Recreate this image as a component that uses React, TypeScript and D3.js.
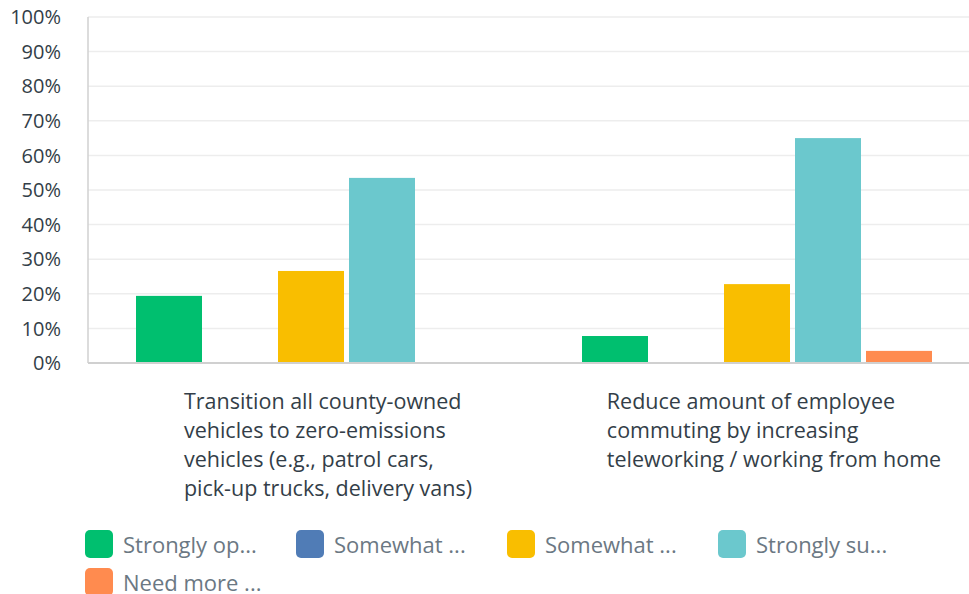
import React, { useEffect, useRef } from 'react';
import * as d3 from 'd3';

const categories = [
  'Transition all county-owned vehicles to zero-emissions vehicles (e.g., patrol cars, pick-up trucks, delivery vans)',
  'Reduce amount of employee commuting by increasing teleworking / working from home',
];
const categoryLines = [
  ['Transition all county-owned', 'vehicles to zero-emissions', 'vehicles (e.g., patrol cars,', 'pick-up trucks, delivery vans)'],
  ['Reduce amount of employee', 'commuting by increasing', 'teleworking / working from home'],
];
const seriesNames = ['Strongly oppose', 'Somewhat oppose', 'Somewhat support', 'Strongly support', 'Need more information'];
const legendLabels = ['Strongly op...', 'Somewhat ...', 'Somewhat ...', 'Strongly su...', 'Need more ...'];
const seriesColors = ['#00bf6f', '#507cb6', '#f9be00', '#6bc8cd', '#ff8b4f'];
// percent per series, one entry per category
const stronglyOppose = [19.4, 7.8];
const somewhatOppose = [0, 0];
const somewhatSupport = [26.6, 22.8];
const stronglySupport = [53.5, 65.0];
const needMoreInfo = [0, 3.5];
const yTicks = [0, 10, 20, 30, 40, 50, 60, 70, 80, 90, 100];

const App: React.FC = () => {
  const ref = useRef<SVGSVGElement>(null);

  useEffect(() => {
    if (!ref.current) return;
    const svg = d3.select(ref.current);
    svg.selectAll('*').remove();

    const series = [stronglyOppose, somewhatOppose, somewhatSupport, stronglySupport, needMoreInfo];
    const left = 88, right = 980, top = 17, bottom = 363;

    const y = d3.scaleLinear().domain([0, 100]).range([bottom, top]);
    const x0 = d3.scaleBand<string>().domain(categories).range([left, right]);
    const x1 = d3.scaleBand<string>().domain(seriesNames).range([0, 350]).paddingInner(5 / 71);
    const groupOffset = (x0.bandwidth() - 350) / 2;

    // gridlines
    svg.append('g')
      .selectAll('line')
      .data(yTicks.filter(d => d > 0))
      .enter().append('line')
      .attr('x1', left).attr('x2', 969)
      .attr('y1', d => y(d)).attr('y2', d => y(d))
      .attr('stroke', '#ededed').attr('stroke-width', 1.5);

    // y labels
    svg.append('g')
      .selectAll('text')
      .data(yTicks)
      .enter().append('text')
      .attr('x', 61)
      .attr('y', d => y(d))
      .attr('dy', '0.36em')
      .attr('text-anchor', 'end')
      .style('font-family', '"Open Sans", sans-serif')
      .style('font-size', '20px')
      .attr('fill', '#333e48')
      .text(d => `${d}%`);

    // left axis
    svg.append('line')
      .attr('x1', left).attr('x2', left)
      .attr('y1', top).attr('y2', bottom)
      .attr('stroke', '#d0d0d0').attr('stroke-width', 1.5);

    // bars
    categories.forEach((cat, ci) => {
      const g = svg.append('g').attr('transform', `translate(${(x0(cat) || 0) + groupOffset},0)`);
      g.selectAll('rect')
        .data(seriesNames.map((s, si) => ({ s, v: series[si][ci], c: seriesColors[si] })))
        .enter().append('rect')
        .attr('x', d => x1(d.s) || 0)
        .attr('width', x1.bandwidth())
        .attr('y', d => y(d.v))
        .attr('height', d => bottom - y(d.v))
        .attr('fill', d => d.c);
    });

    // baseline
    svg.append('line')
      .attr('x1', left).attr('x2', 969)
      .attr('y1', bottom).attr('y2', bottom)
      .attr('stroke', '#d0d0d0').attr('stroke-width', 2);

    // category labels
    categories.forEach((cat, ci) => {
      const t = svg.append('text')
        .style('font-family', '"Open Sans", sans-serif')
        .style('font-size', '21.5px')
        .attr('fill', '#333e48');
      categoryLines[ci].forEach((line, li) => {
        t.append('tspan').attr('x', 0).attr('y', 409 + li * 29).text(line);
      });
      const w = (t.node() as SVGTextElement).getBBox().width;
      const cx = (x0(cat) || 0) + x0.bandwidth() / 2 + 17;
      t.attr('transform', `translate(${cx - w / 2},0)`);
    });

    // legend
    const legend = svg.append('g');
    seriesNames.forEach((s, i) => {
      const lx = 85 + (i % 4) * 211;
      const ly = 530 + Math.floor(i / 4) * 38;
      legend.append('rect')
        .attr('x', lx).attr('y', ly)
        .attr('width', 28).attr('height', 28)
        .attr('rx', 5)
        .attr('fill', seriesColors[i]);
      legend.append('text')
        .attr('x', lx + 38).attr('y', ly + 15)
        .attr('dy', '0.36em')
        .style('font-family', '"Open Sans", sans-serif')
        .style('font-size', '22px')
        .attr('fill', '#6b7883')
        .text(legendLabels[i]);
    });
  }, []);

  return (
    <svg
      ref={ref}
      width={969}
      height={594}
      style={{ position: 'absolute', left: 0, top: 0, background: '#fff' }}
    />
  );
};

export default App;
